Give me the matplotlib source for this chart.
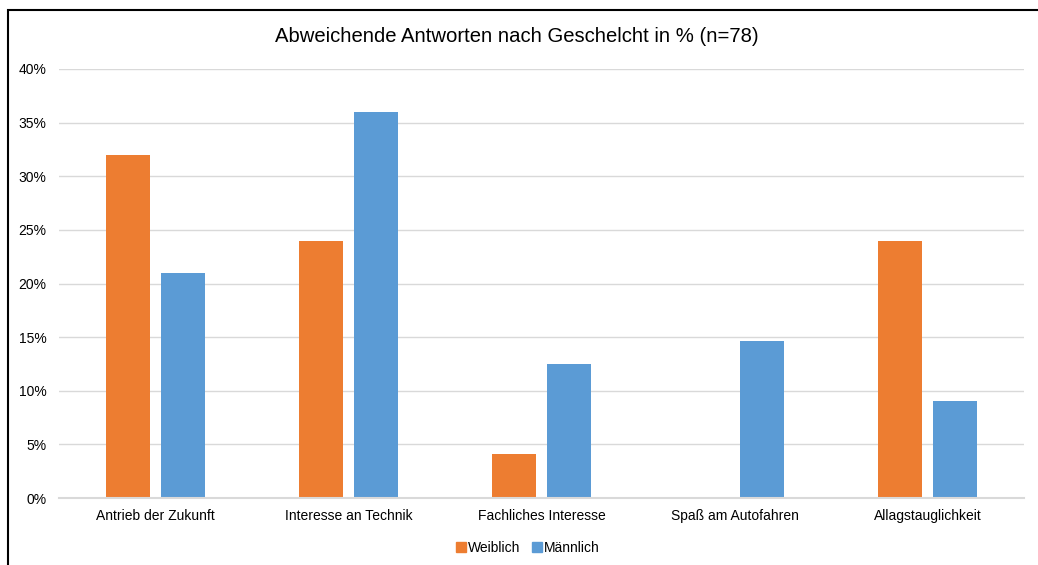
import matplotlib.pyplot as plt
import matplotlib.patches as mpatches
import numpy as np

plt.rcParams['font.family'] = ['Liberation Sans', 'DejaVu Sans']

# Anteile abweichender Antworten in %
kategorien = ["Antrieb der Zukunft", "Interesse an Technik", "Fachliches Interesse",
              "Spaß am Autofahren", "Allagstauglichkeit"]
weiblich = [32, 24, 4.1, 0, 24]
maennlich = [21, 36, 12.5, 14.6, 9]

farbe_w = "#ED7D31"
farbe_m = "#5B9BD5"

fig = plt.figure(figsize=(10.38, 5.65), dpi=100)
ax = fig.add_axes([59 / 1038, 1 - 498 / 565, 965 / 1038, 429 / 565])

x = np.arange(len(kategorien))
breite = 0.223
versatz = 0.1425
ax.bar(x - versatz, weiblich, breite, color=farbe_w, label="Weiblich", zorder=3)
ax.bar(x + versatz, maennlich, breite, color=farbe_m, label="Männlich", zorder=3)

ax.set_xlim(-0.5, len(kategorien) - 0.5)
ax.set_ylim(0, 40)
ax.set_yticks(range(0, 41, 5))
ax.set_yticklabels([f"{v}%" for v in range(0, 41, 5)])
ax.set_xticks(x)
ax.set_xticklabels(kategorien)
ax.tick_params(axis='both', length=0, labelsize=10, colors="#000000")
ax.tick_params(axis='y', pad=9)
ax.tick_params(axis='x', pad=8)

ax.grid(axis='y', color="#d9d9d9", linewidth=1.0, zorder=0)
for s in ["top", "right", "left"]:
    ax.spines[s].set_visible(False)
ax.spines["bottom"].set_color("#d9d9d9")
ax.spines["bottom"].set_linewidth(1.5)
ax.spines["bottom"].set_zorder(4)

fig.text(517 / 1038, 1 - 37 / 565, "Abweichende Antworten nach Geschelcht in % (n=78)",
         ha='center', va='center', fontsize=14.6)

handles = [mpatches.Patch(color=farbe_w, label="Weiblich"),
           mpatches.Patch(color=farbe_m, label="Männlich")]
fig.legend(handles=handles, loc='center', bbox_to_anchor=(528 / 1038, 1 - 548 / 565),
           ncol=2, frameon=False, fontsize=10, handlelength=0.7, handleheight=0.7,
           handletextpad=0.2, columnspacing=0.8)

# Rahmen um das Diagramm
rahmen = mpatches.Rectangle((8 / 1038, -0.1), 1.2, 1.1 - 10 / 565, transform=fig.transFigure,
                            fill=False, edgecolor="black", linewidth=1.5, clip_on=False)
fig.patches.append(rahmen)

fig.savefig("out.png", dpi=100)
